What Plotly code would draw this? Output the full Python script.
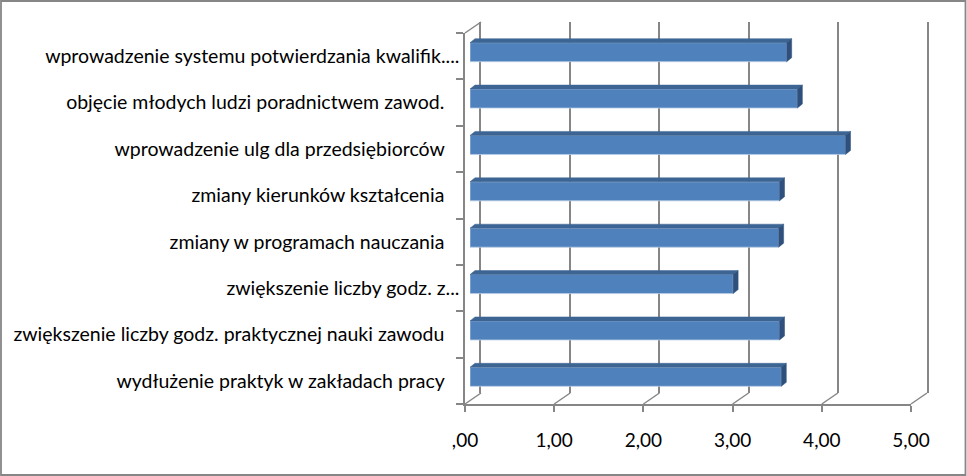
import plotly.graph_objects as go

# ---------------- data (bottom -> top) ----------------
categories = [
    "wydłużenie praktyk w zakładach pracy",
    "zwiększenie liczby godz. praktycznej nauki zawodu",
    "zwiększenie liczby godz. z...",
    "zmiany w programach nauczania",
    "zmiany kierunków kształcenia",
    "wprowadzenie ulg dla przedsiębiorców",
    "objęcie młodych ludzi poradnictwem zawod.",
    "wprowadzenie systemu potwierdzania kwalifik....",
]
values = [3.49, 3.47, 2.95, 3.46, 3.47, 4.21, 3.67, 3.55]
tick_vals = [0, 1, 2, 3, 4, 5]
tick_text = [",00", "1,00", "2,00", "3,00", "4,00", "5,00"]

# ---------------- geometry (pixels) ----------------
W, H = 967, 476
FX0, FX1 = 465, 911      # front plane x for 0 and 5
FYB, FYT = 404, 33       # front plane bottom / top
DX, DY = 16, -11         # depth offset of back wall
BDX, BDY = 5, -4         # depth offset of bar front faces
FACE_DX, FACE_DY = 5, 4  # bar top / side face depth
BAR_W = 0.41

px_per_unit = (FX1 - FX0) / 5.0
px_per_cat = (FYB - FYT) / len(categories)

def fx(p):
    return p / W

def fy(p):
    return 1 - p / H

GRAY = "#868686"
FONT = "Lato"

display_labels = [c if c.endswith("...") else c + "\u00a0\u00a0\u00a0"
                  for c in categories]

fig = go.Figure()

ypos = list(range(len(categories)))
fig.add_trace(go.Bar(
    x=values, y=ypos, orientation="h", width=BAR_W,
    marker=dict(color="#4F81BD", line=dict(color="#B9CDE5", width=0.8)),
    xaxis="x3", yaxis="y3", showlegend=False, hoverinfo="x",
))

ddx = FACE_DX / px_per_unit
ddy = FACE_DY / px_per_cat
top_x, top_y, side_x, side_y = [], [], [], []
for i, v in enumerate(values):
    t = i + BAR_W / 2
    b = i - BAR_W / 2
    top_x += [0, v, v + ddx, ddx, 0, None]
    top_y += [t, t, t + ddy, t + ddy, t, None]
    side_x += [v, v + ddx, v + ddx, v, v, None]
    side_y += [b, b + ddy, t + ddy, t, b, None]

fig.add_trace(go.Scatter(x=top_x, y=top_y, fill="toself", mode="lines",
                         fillcolor="#3D6594", line=dict(color="#3D6594", width=0.5),
                         xaxis="x3", yaxis="y3", showlegend=False, hoverinfo="skip"))
fig.add_trace(go.Scatter(x=side_x, y=side_y, fill="toself", mode="lines",
                         fillcolor="#2F507C", line=dict(color="#2F507C", width=0.5),
                         xaxis="x3", yaxis="y3", showlegend=False, hoverinfo="skip"))

fig.add_trace(go.Scatter(x=[None] * len(categories), y=display_labels, mode="markers",
                         xaxis="x", yaxis="y", showlegend=False, hoverinfo="skip"))
fig.add_trace(go.Scatter(x=[None], y=[None], mode="markers",
                         xaxis="x2", yaxis="y2", showlegend=False, hoverinfo="skip"))

shapes = []
for v in tick_vals:
    x0 = FX0 + v * px_per_unit
    shapes.append(dict(type="line", xref="paper", yref="paper",
                       x0=fx(x0), y0=fy(FYB), x1=fx(x0 + DX), y1=fy(FYB + DY),
                       line=dict(color=GRAY, width=1.5)))
shapes.append(dict(type="line", xref="paper", yref="paper",
                   x0=fx(FX0), y0=fy(FYT), x1=fx(FX0 + DX), y1=fy(FYT + DY),
                   line=dict(color=GRAY, width=1.5)))
shapes.append(dict(type="rect", xref="paper", yref="paper",
                   x0=fx(1), y0=fy(H - 1), x1=fx(W - 1.5), y1=fy(1),
                   line=dict(color=GRAY, width=1.8), layer="below"))

fig.update_layout(
    width=W, height=H,
    margin=dict(l=0, r=0, t=0, b=0, pad=0, autoexpand=False),
    paper_bgcolor="white", plot_bgcolor="rgba(0,0,0,0)",
    font=dict(family=FONT, size=19, color="black"),
    shapes=shapes,
    showlegend=False,
    xaxis=dict(domain=[fx(FX0), fx(FX1)], range=[0, 5], tickvals=tick_vals, ticktext=tick_text,
               showgrid=False, zeroline=False, showline=True, linecolor=GRAY, linewidth=1.5,
               ticks="outside", ticklen=6, tickcolor=GRAY, tickwidth=1.5,
               ticklabelstandoff=12, anchor="y", fixedrange=True, automargin=False),
    yaxis=dict(domain=[fy(FYB), fy(FYT)], type="category", categoryorder="array",
               categoryarray=display_labels, range=[-0.5, len(categories) - 0.5],
               tickson="boundaries", ticks="outside", ticklen=7, tickcolor=GRAY, tickwidth=1.5,
               tickfont=dict(size=19.5),
               showgrid=False, zeroline=False, showline=True, linecolor=GRAY, linewidth=1.5,
               ticklabelstandoff=0, anchor="x", fixedrange=True, automargin=False),
    xaxis2=dict(domain=[fx(FX0 + DX), fx(FX1 + DX)], range=[0, 5], tickvals=tick_vals,
                showticklabels=False, showgrid=True, gridcolor=GRAY, gridwidth=1.5,
                zeroline=False, showline=False, anchor="y2", fixedrange=True, automargin=False),
    yaxis2=dict(domain=[fy(FYB + DY), fy(FYT + DY)], range=[0, 1], showticklabels=False,
                showgrid=False, zeroline=False, showline=True, mirror=True,
                linecolor=GRAY, linewidth=1.5, anchor="x2", fixedrange=True, automargin=False),
    xaxis3=dict(domain=[fx(FX0 + BDX), fx(FX1 + BDX)], range=[0, 5], visible=False,
                anchor="y3", fixedrange=True),
    yaxis3=dict(domain=[fy(FYB + BDY), fy(FYT + BDY)], range=[-0.5, len(categories) - 0.5],
                visible=False, anchor="x3", fixedrange=True),
)

fig.write_html("out.html")
